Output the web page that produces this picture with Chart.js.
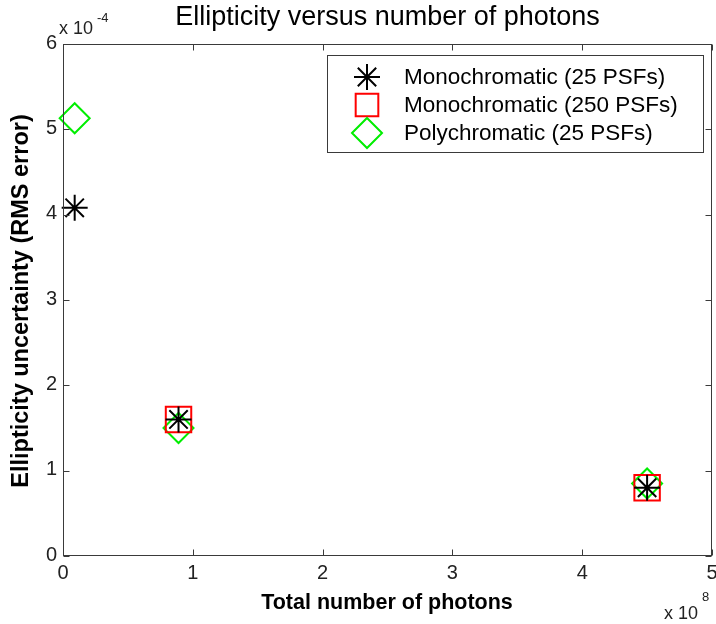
<!DOCTYPE html>
<html>
<head>
<meta charset="utf-8">
<script src="https://cdn.jsdelivr.net/npm/chart.js@4/dist/chart.umd.min.js"></script>
<style>
  html, body { margin: 0; padding: 0; background: #fff; }
  #wrap { width: 716px; height: 624px; }
</style>
</head>
<body>
<div id="wrap"><canvas id="grafico" width="716" height="624"></canvas></div>
<script>
// datos (x en unidades de 1e8 fotones, y en unidades de 1e-4)
const fotonesMono25 = [0.09, 0.89, 4.5];
const errorMono25   = [4.08, 1.60, 0.80];
const fotonesMono250 = [0.89, 4.5];
const errorMono250   = [1.60, 0.80];
const fotonesPoly25 = [0.09, 0.89, 4.5];
const errorPoly25   = [5.13, 1.50, 0.85];

const ticksX = [0, 1, 2, 3, 4, 5];
const ticksY = [0, 1, 2, 3, 4, 5, 6];

const etiquetas = ['Monochromatic (25 PSFs)', 'Monochromatic (250 PSFs)', 'Polychromatic (25 PSFs)'];
const FUENTE = '"Liberation Sans", Arial, sans-serif';
const COLOR_EJE = '#3a3a3a';

function puntos(xs, ys) { return xs.map((x, i) => ({ x: x, y: ys[i] })); }

const estilos = [
  { pointStyle: 'star', color: '#000000', radius: 13, borderWidth: 2 },
  { pointStyle: 'rect', color: '#ff0000', radius: 18, borderWidth: 2 },
  { pointStyle: 'rectRot', color: '#00ee00', radius: 15, borderWidth: 2 }
];

const series = [
  puntos(fotonesMono25, errorMono25),
  puntos(fotonesMono250, errorMono250),
  puntos(fotonesPoly25, errorPoly25)
];

// marco, ticks hacia adentro, textos y leyenda al estilo MATLAB
const pluginMatlab = {
  id: 'matlab',
  afterDraw(chart) {
    const ctx = chart.ctx;
    const a = chart.chartArea;
    const sx = chart.scales.x, sy = chart.scales.y;
    ctx.save();
    ctx.strokeStyle = COLOR_EJE;
    ctx.lineWidth = 1;
    const L = Math.round(a.left) + 0.5, R = Math.round(a.right) - 0.5;
    const T = Math.round(a.top) + 0.5, B = Math.round(a.bottom) - 0.5;
    ctx.strokeRect(L, T, R - L, B - T);
    ctx.beginPath();
    ticksX.forEach(v => {
      const px = Math.round(sx.getPixelForValue(v)) + 0.5;
      ctx.moveTo(px, B); ctx.lineTo(px, B - 6);
      ctx.moveTo(px, T); ctx.lineTo(px, T + 6);
    });
    ticksY.forEach(v => {
      const py = Math.round(sy.getPixelForValue(v)) + 0.5;
      ctx.moveTo(L, py); ctx.lineTo(L + 6, py);
      ctx.moveTo(R, py); ctx.lineTo(R - 6, py);
    });
    ctx.stroke();

    // etiquetas de los ticks
    ctx.fillStyle = '#222';
    ctx.font = '20px ' + FUENTE;
    ctx.textAlign = 'center';
    ctx.textBaseline = 'top';
    ticksX.forEach(v => ctx.fillText(String(v), sx.getPixelForValue(v), 563));
    ctx.textAlign = 'right';
    ctx.textBaseline = 'middle';
    ticksY.forEach(v => ctx.fillText(String(v), 57, sy.getPixelForValue(v) - 1));

    // titulo
    ctx.fillStyle = '#000';
    ctx.textAlign = 'center';
    ctx.textBaseline = 'middle';
    ctx.font = '27px ' + FUENTE;
    ctx.fillText('Ellipticity versus number of photons', (a.left + a.right) / 2, 18);

    // titulos de ejes
    ctx.font = 'bold 21.5px ' + FUENTE;
    ctx.fillText('Total number of photons', 387, 603);
    ctx.save();
    ctx.translate(22, 301);
    ctx.rotate(-Math.PI / 2);
    ctx.font = 'bold 23.5px ' + FUENTE;
    ctx.fillText('Ellipticity uncertainty (RMS error)', 0, 0);
    ctx.restore();

    // multiplicadores
    ctx.fillStyle = '#222';
    ctx.textAlign = 'left';
    ctx.font = '18px ' + FUENTE;
    ctx.fillText('x 10', 59, 29);
    ctx.fillText('x 10', 664, 614);
    ctx.font = '13px ' + FUENTE;
    ctx.fillText('-4', 97, 18);
    ctx.fillText('8', 702, 597);

    // leyenda
    const lx = 327.5, ly = 55.5, lw = 376, lh = 97;
    ctx.fillStyle = '#fff';
    ctx.fillRect(lx, ly, lw, lh);
    ctx.strokeStyle = COLOR_EJE;
    ctx.lineWidth = 1;
    ctx.strokeRect(lx, ly, lw, lh);
    ctx.font = '22.5px ' + FUENTE;
    ctx.textAlign = 'left';
    ctx.textBaseline = 'middle';
    etiquetas.forEach((t, i) => {
      const yy = 77 + i * 28;
      const e = estilos[i];
      ctx.strokeStyle = e.color;
      ctx.fillStyle = 'rgba(0,0,0,0)';
      ctx.lineWidth = e.borderWidth;
      Chart.helpers.drawPoint(ctx, { pointStyle: e.pointStyle, radius: e.pointStyle === 'rect' ? 16 : e.radius, rotation: 0, borderWidth: e.borderWidth }, 367, yy);
      ctx.fillStyle = '#000';
      ctx.fillText(t, 404, yy + 1);
    });
    ctx.restore();
  }
};

new Chart(document.getElementById('grafico'), {
  type: 'scatter',
  data: {
    datasets: series.map((d, i) => ({
      label: etiquetas[i],
      data: d,
      pointStyle: estilos[i].pointStyle,
      pointRadius: estilos[i].radius,
      pointHoverRadius: estilos[i].radius,
      borderColor: estilos[i].color,
      backgroundColor: 'rgba(0,0,0,0)',
      pointBorderWidth: estilos[i].borderWidth,
      showLine: false,
      clip: false
    }))
  },
  options: {
    responsive: false,
    animation: false,
    events: [],
    layout: { autoPadding: false, padding: { left: 0, top: 44, right: 4, bottom: 0 } },
    plugins: { legend: { display: false }, tooltip: { enabled: false }, title: { display: false } },
    scales: {
      x: {
        type: 'linear', min: 0, max: 5,
        afterBuildTicks: s => { s.ticks = ticksX.map(v => ({ value: v })); },
        afterFit: s => { s.height = 68; },
        grid: { display: false, drawTicks: false },
        border: { display: false },
        ticks: { display: false }
      },
      y: {
        type: 'linear', min: 0, max: 6,
        afterBuildTicks: s => { s.ticks = ticksY.map(v => ({ value: v })); },
        afterFit: s => { s.width = 63; },
        grid: { display: false, drawTicks: false },
        border: { display: false },
        ticks: { display: false }
      }
    }
  },
  plugins: [pluginMatlab]
});
</script>
</body>
</html>
